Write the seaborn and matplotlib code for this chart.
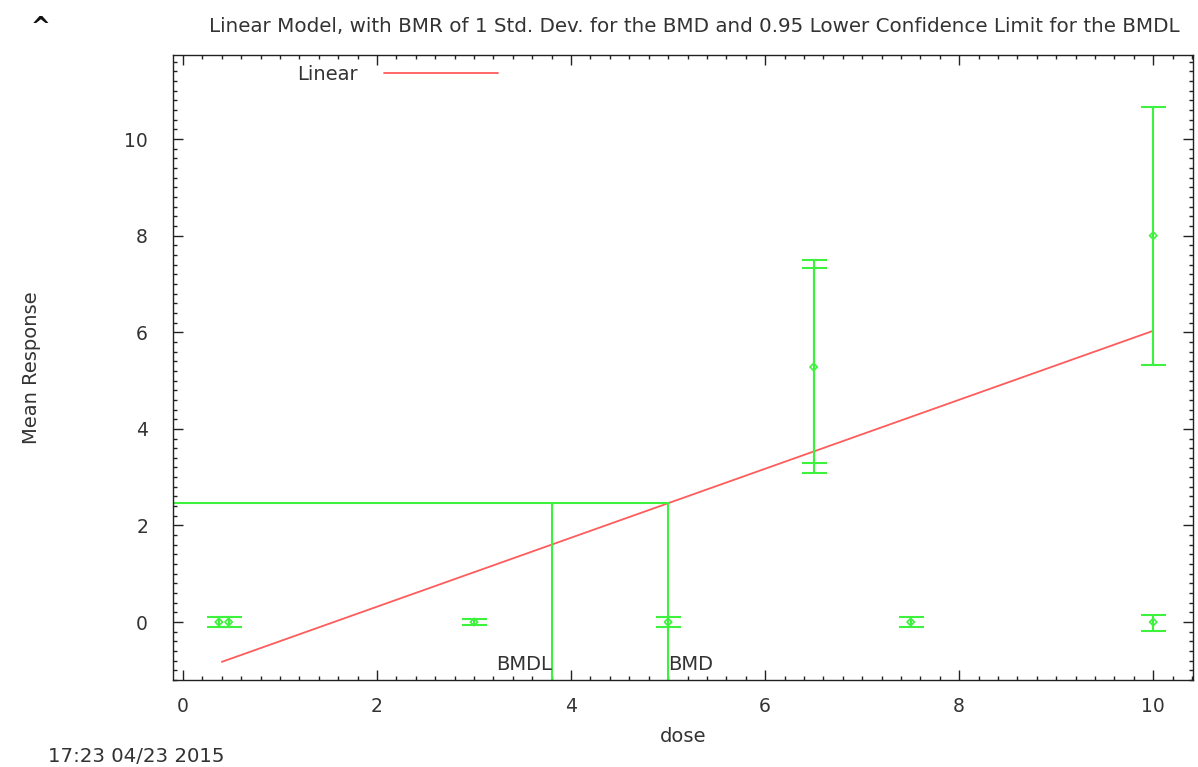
import numpy as np
import pandas as pd
import matplotlib
matplotlib.use("Agg")
import matplotlib.pyplot as plt
from matplotlib.ticker import MultipleLocator
import seaborn as sns

# Observed dose groups: mean response with lower / upper error limits
doses = [0.37, 0.47, 3.0, 5.0, 6.5, 7.5, 10.0, 10.0]
means = [0.0, 0.0, 0.0, 0.0, 5.28, 0.0, 8.0, 0.0]
lower = [-0.1, -0.1, -0.06, -0.1, 3.09, -0.1, 5.33, -0.18]
upper = [0.1, 0.1, 0.06, 0.1, 7.50, 0.1, 10.67, 0.14]
# second (inner) interval drawn on the 6.5 group
inner_dose = [6.5]
inner_mean = [5.28]
inner_lower = [3.30]
inner_upper = [7.33]

# Fitted linear model
fit_dose = [0.4, 10.0]
slope = 0.714
bmd = 5.0
bmdl = 3.8
bmr_level = 2.46

x_ticks = [0, 2, 4, 6, 8, 10]
y_ticks = [0, 2, 4, 6, 8, 10]

GREEN = "#3cf23c"
RED = "#ff5c5c"
TXT = "#333333"

sns.set_theme(style="ticks")
plt.rcParams["font.family"] = ["DejaVu Sans"]

fig = plt.figure(figsize=(11.98, 7.67), dpi=100)
ax = fig.add_axes([173 / 1198, 1 - 680 / 767, (1193 - 173) / 1198, (680 - 55) / 767])

xmin, xmax = -0.103, 10.41
ymin, ymax = -1.2, 11.74

# fitted line
fit_resp = [bmr_level + slope * (d - bmd) for d in fit_dose]
fit_df = pd.DataFrame({"dose": fit_dose, "resp": fit_resp})
sns.lineplot(data=fit_df, x="dose", y="resp", ax=ax, color=RED, lw=1.3,
             label="Linear", legend=False)

# BMD / BMDL markers
ax.plot([xmin, bmd], [bmr_level, bmr_level], color=GREEN, lw=1.5)
ax.plot([bmd, bmd], [ymin, bmr_level], color=GREEN, lw=1.5)
ax.plot([bmdl, bmdl], [ymin, bmr_level], color=GREEN, lw=1.5)

# error bars
m = np.array(means)
ax.errorbar(doses, means, yerr=[m - np.array(lower), np.array(upper) - m],
            fmt="none", ecolor=GREEN, elinewidth=1.5, capsize=9, capthick=1.5)
im = np.array(inner_mean)
ax.errorbar(inner_dose, inner_mean,
            yerr=[im - np.array(inner_lower), np.array(inner_upper) - im],
            fmt="none", ecolor=GREEN, elinewidth=1.5, capsize=9, capthick=1.5)
pts = pd.DataFrame({"dose": doses, "mean": means})
sns.scatterplot(data=pts, x="dose", y="mean", ax=ax, marker="D", s=14,
                facecolor="none", edgecolor=GREEN, linewidth=1.2, legend=False)

ax.text(bmdl, -1.08, "BMDL", ha="right", va="bottom", fontsize=14, color=TXT)
ax.text(bmd, -1.08, "BMD", ha="left", va="bottom", fontsize=14, color=TXT)

ax.set_xlim(xmin, xmax)
ax.set_ylim(ymin, ymax)
ax.set_xticks(x_ticks)
ax.set_yticks(y_ticks)
ax.xaxis.set_minor_locator(MultipleLocator(0.2))
ax.yaxis.set_minor_locator(MultipleLocator(0.2))
ax.tick_params(which="both", direction="in", top=True, right=True, colors="#222222",
               labelcolor=TXT, labelsize=13.5)
ax.tick_params(which="major", length=7, width=1)
ax.tick_params(which="minor", length=3, width=1)
ax.tick_params(axis="x", pad=12)
ax.tick_params(axis="y", pad=18)
for s in ax.spines.values():
    s.set_color("#222222")
    s.set_linewidth(1)

ax.set_xlabel("dose", fontsize=14, color=TXT, va="center")
ax.set_ylabel("Mean Response", fontsize=14, color=TXT, va="center")
ax.xaxis.set_label_coords(0.5, (680 - 736) / 625)
ax.yaxis.set_label_coords((32 - 173) / 1020, 0.5)

# legend entry
leg = ax.legend(loc="upper left", bbox_to_anchor=(0.105, 1.012), frameon=False,
                fontsize=14, handlelength=5.9, markerfirst=False, handletextpad=1.3)
for t in leg.get_texts():
    t.set_color(TXT)

fig.text(694 / 1198, 1 - 27 / 767,
         "Linear Model, with BMR of 1 Std. Dev. for the BMD and 0.95 Lower Confidence Limit for the BMDL",
         ha="center", va="center", fontsize=14.3, color=TXT)
fig.text(40 / 1198, 1 - 27 / 767, "^", ha="center", va="center", fontsize=17,
         fontweight="bold", color="#111111")
fig.text(48 / 1198, 1 - 757 / 767, "17:23 04/23 2015", ha="left", va="center",
         fontsize=14.2, color=TXT)

fig.savefig("out.png", dpi=100)
